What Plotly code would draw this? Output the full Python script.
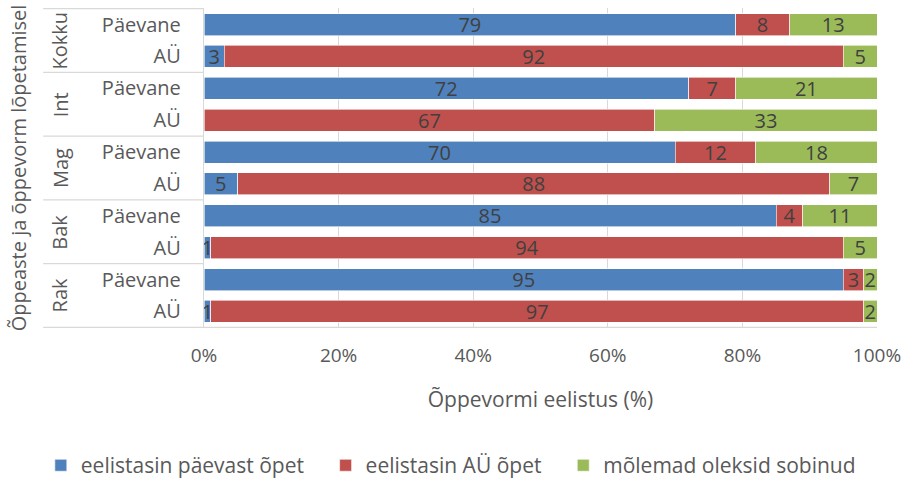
import plotly.graph_objects as go

groups = ["Kokku", "Int", "Mag", "Bak", "Rak"]
forms = ["Päevane", "AÜ"]
series_names = ["eelistasin päevast õpet", "eelistasin AÜ õpet", "mõlemad oleksid sobinud"]
# values per (group, form), in order Kokku-Päevane, Kokku-AÜ, Int-Päevane, ...
paevane = [79, 3, 72, 0, 70, 5, 85, 1, 95, 1]
au = [8, 92, 7, 67, 12, 88, 4, 94, 3, 97]
molemad = [13, 5, 21, 33, 18, 7, 11, 5, 2, 2]
x_ticks = [0, 20, 40, 60, 80, 100]
x_ticklabels = ["0%", "20%", "40%", "60%", "80%", "100%"]
colors = ["#4F81BD", "#C0504D", "#9BBB59"]

FONT = "Open Sans"
TXT = "#595959"
keys = [f"{g}|{f}" for g in groups for f in forms]
labels = [f for g in groups for f in forms]

legend_ids = ["legend", "legend2", "legend3"]
legend_x = [0.045, 0.359, 0.621]

fig = go.Figure()
for name, vals, col, lid in zip(series_names, [paevane, au, molemad], colors, legend_ids):
    fig.add_trace(go.Bar(
        y=keys, x=vals, orientation="h", name=name, legend=lid,
        marker=dict(color=col, line=dict(width=0.6, color="white")),
        text=[str(v) if v else "" for v in vals],
        textposition="inside", insidetextanchor="middle",
        textangle=0, constraintext="none", cliponaxis=False,
        textfont=dict(family=FONT, size=20, color="#404040"),
        hoverinfo="x+name",
    ))

ann = []
shapes = []
n = len(forms)
for i, g in enumerate(groups):
    ann.append(dict(text=g, xref="paper", yref="y", x=-0.214, y=i * n + (n - 1) / 2,
                    xanchor="center", yanchor="middle",
                    textangle=-90, showarrow=False,
                    font=dict(family=FONT, size=20, color=TXT)))
for i in range(len(groups) + 1):
    shapes.append(dict(type="line", xref="paper", yref="y", x0=-0.239,
                       x1=1 if i == len(groups) else 0,
                       y0=i * n - 0.5, y1=i * n - 0.5,
                       line=dict(color="#D9D9D9", width=1.3)))

leg_common = dict(orientation="h", xref="container", yref="container",
                  xanchor="left", y=0.03, yanchor="middle",
                  bgcolor="rgba(0,0,0,0)",
                  font=dict(family=FONT, size=21, color=TXT))
legends = {lid: dict(leg_common, x=lx) for lid, lx in zip(legend_ids, legend_x)}

fig.update_layout(
    template="none",
    width=907, height=480,
    margin=dict(l=204, r=30, t=8, b=152),
    barmode="stack", bargap=0.31,
    plot_bgcolor="white", paper_bgcolor="white",
    font=dict(family=FONT, size=20, color=TXT),
    annotations=ann, shapes=shapes,
    showlegend=True,
    **legends,
    xaxis=dict(range=[0, 100], tickvals=x_ticks, ticktext=x_ticklabels,
               automargin=False,
               showgrid=True, gridcolor="#D9D9D9", gridwidth=1.3,
               zeroline=False, showline=False,
               ticks="", ticklabelstandoff=14,
               tickfont=dict(family=FONT, size=19, color=TXT),
               title=dict(text="Õppevormi eelistus (%)", standoff=25,
                          font=dict(family=FONT, size=21, color=TXT))),
    yaxis=dict(type="category", categoryorder="array", categoryarray=keys,
               autorange="reversed", tickvals=keys, ticktext=labels,
               automargin=False,
               showline=True, linecolor="#D9D9D9", linewidth=1.3,
               showgrid=False, zeroline=False, ticks="", ticklabelstandoff=18,
               tickfont=dict(family=FONT, size=20, color=TXT),
               title=dict(text="Õppeaste ja õppevorm lõpetamisel", standoff=69,
                          font=dict(family=FONT, size=20, color=TXT))),
)

fig.write_html("out.html", config={"displayModeBar": False},
               post_script="document.body.style.margin='0px';document.body.style.overflow='hidden';")
